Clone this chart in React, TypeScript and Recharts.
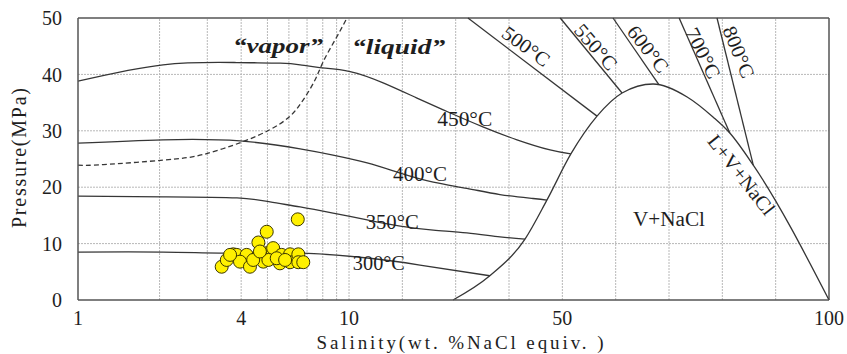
import React from 'react'
import { ComposedChart, Line, Scatter, XAxis, YAxis, ReferenceLine } from 'recharts'

const X_TICKS = [1, 4, 10, 50, 100]
const Y_TICKS = [0, 10, 20, 30, 40, 50]
const X_GRID = [2, 3, 4, 5, 6, 7, 8, 9, 10, 20, 30, 40, 50, 60, 70, 80, 90]
const Y_GRID = [10, 20, 30, 40]

// isotherms, [salinity wt.%, pressure MPa]
const iso300 = [[1, 8.5], [2.06, 8.5], [3.86, 8.3], [6.7, 8.3], [13.9, 7.4], [23.3, 6.2], [36.4, 4.3]]
const iso350 = [[1, 18.4], [2.06, 18.3], [3.86, 18.1], [5.11, 17.4], [6.6, 16.5], [8.73, 15.4], [13.4, 14.2], [19.6, 13.1], [25.8, 12.4], [32.1, 11.9], [38.3, 11.2], [43, 10.8]]
const iso400 = [[1, 27.8], [2.06, 28.4], [3.96, 28.2], [6.6, 26.8], [8.73, 25.7], [13.4, 24.3], [19.6, 22.5], [25.8, 20.9], [32.1, 19.8], [38.3, 18.7], [44.5, 18.0], [47.1, 17.7]]
const iso450 = [[1, 38.8], [2.06, 41.7], [3.86, 42.1], [5.57, 42.0], [6.6, 41.7], [7.8, 41.2], [10.2, 40.5], [16.4, 38.5], [22.75, 35.8], [28.9, 33.2], [35.1, 30.7], [41.5, 28.4], [47.7, 26.6], [51.6, 25.9]]
const iso500 = [[32.3, 50], [56.5, 32.6]]
const iso550 = [[49.6, 50], [61.2, 36.7]]
const iso600 = [[59.5, 50], [68.1, 38.2]]
const iso700 = [[71.9, 50], [81.4, 29.6]]
const iso800 = [[79, 50], [85.8, 23.9]]

// halite saturation / L+V+NaCl boundary
const boundary = [[29.5, 0], [36.4, 4.3], [43, 10.8], [47.1, 17.7], [51.6, 25.9], [56.5, 32.6], [61.2, 36.7], [67, 38.3], [73.4, 36], [78.3, 32.4], [81.4, 29.6], [85.8, 23.9], [100, 0]]

// vapor / liquid divide (dashed)
const critical = [[1, 23.9], [1.24, 24.0], [2.07, 24.8], [2.9, 25.8], [4.02, 28.0], [5.11, 30.2], [6.06, 32.6], [6.78, 35.5], [7.49, 39], [8.04, 42.3], [8.88, 46.1], [9.83, 50]]

// fluid inclusions
const inclusions = [
  [6.47, 14.3], [4.97, 12.1], [4.63, 10.2], [3.39, 5.9], [3.54, 7.1], [3.74, 8.1], [3.85, 8.0],
  [4.19, 8.0], [3.96, 6.8], [4.31, 5.9], [4.63, 7.9], [4.97, 8.3], [5.23, 8.2], [5.25, 9.2],
  [4.83, 6.8], [5.56, 6.5], [5.64, 8.0], [6.06, 8.1], [6.06, 6.7], [6.5, 8.1], [6.5, 6.7],
  [6.78, 6.7], [4.43, 7.1], [5.04, 7.1], [5.41, 7.4], [3.64, 8.0], [4.69, 8.6], [5.81, 7.1],
]

// annotations: text, salinity, pressure, rotation, text length
const LABELS: [string, number, number, number, number, string][] = [
  ['“vapor”', 5.47, 45.2, 0, 90, 'phase'],
  ['“liquid”', 19.3, 44.9, 0, 93, 'phase'],
  ['450°C', 31.7, 32.1, 0, 55, 't'],
  ['400°C', 23.3, 22.3, 0, 54, 't'],
  ['350°C', 18.1, 13.8, 0, 53, 't'],
  ['300°C', 15.6, 6.6, 0, 52, 't'],
  ['500°C', 43.2, 45.0, 36, 54, 't'],
  ['550°C', 56.3, 44.9, 49, 54, 't'],
  ['600°C', 66.1, 44.5, 52, 54, 't'],
  ['700°C', 76.4, 43.8, 63, 54, 't'],
  ['800°C', 83.1, 44.0, 68, 54, 't'],
  ['L+V+NaCl', 83.6, 22.2, 52, 96, 't'],
  ['V+NaCl', 70, 14.4, 0, 72, 't'],
]

// x axis: log from 1 to 10, then linear from 10 to 100
const LIN = 1.771
const toU = (s: number) => (s <= 10 ? Math.log10(s) : 1 + ((s - 10) / 90) * LIN)
const fromU = (u: number) => (u <= 1 ? Math.pow(10, u) : 10 + ((u - 1) / LIN) * 90)
const U_MAX = toU(100)

const pts = (arr: number[][]) => arr.map(([s, p]) => ({ u: toU(s), P: p }))

const SERIF = '"Liberation Serif", "Times New Roman", serif'
const INK = '#1e1e1e'
const LINE = '#363636'
const GRID = '#b8b8b8'

const labelData = LABELS.map(([text, s, p, angle, len, kind]) => ({ u: toU(s), P: p, text, angle, len, kind }))

function LabelShape(props: any) {
  const { cx, cy, payload } = props
  const phase = payload.kind === 'phase'
  return (
    <text
      x={cx}
      y={cy}
      textAnchor="middle"
      dominantBaseline="central"
      transform={payload.angle ? `rotate(${payload.angle} ${cx} ${cy})` : undefined}
      textLength={payload.len}
      lengthAdjust="spacingAndGlyphs"
      fontFamily={SERIF}
      fontSize={phase ? 22 : 20}
      fontWeight={phase ? 'bold' : 'normal'}
      fontStyle={phase ? 'italic' : 'normal'}
      fill={INK}
    >
      {payload.text}
    </text>
  )
}

function Dot(props: any) {
  const { cx, cy } = props
  return <circle cx={cx} cy={cy} r={6.5} fill="#fff000" stroke="#3b3600" strokeWidth={1} />
}

const curves = [iso300, iso350, iso400, iso450]
const straights = [iso500, iso550, iso600, iso700, iso800]

export default function App() {
  return (
    <div style={{ position: 'absolute', left: 0, top: 0, background: '#fff' }}>
      <ComposedChart width={847} height={354} margin={{ top: 18, right: 18, bottom: 0, left: 0 }}>
        <XAxis
          type="number"
          dataKey="u"
          domain={[0, U_MAX]}
          ticks={X_TICKS.map(toU)}
          tickFormatter={(v: number) => String(Math.round(fromU(v)))}
          height={54}
          tickLine={false}
          tickSize={6}
          tickMargin={5}
          axisLine={{ stroke: '#555', strokeWidth: 1.5 }}
          tick={{ fill: INK, fontSize: 20, fontFamily: SERIF }}
          label={{
            content: () => (
              <text x={460} y={342} textAnchor="middle" dominantBaseline="central" textLength={287}
                lengthAdjust="spacing" fontFamily={SERIF} fontSize={19} fill={INK}>
                Salinity(wt. %NaCl equiv. )
              </text>
            ),
          }}
        />
        <YAxis
          type="number"
          dataKey="P"
          domain={[0, 50]}
          ticks={Y_TICKS}
          width={78}
          tickLine={false}
          tickSize={6}
          tickMargin={10}
          axisLine={{ stroke: '#555', strokeWidth: 1.5 }}
          tick={{ fill: INK, fontSize: 20, fontFamily: SERIF }}
          label={{
            content: () => (
              <text x={19} y={158} transform="rotate(-90 19 158)" textAnchor="middle" dominantBaseline="central"
                textLength={140} lengthAdjust="spacing" fontFamily={SERIF} fontSize={20} fill={INK}>
                Pressure(MPa)
              </text>
            ),
          }}
        />

        {X_GRID.map((s) => (
          <ReferenceLine key={'gx' + s} x={toU(s)} stroke={GRID} strokeWidth={1} strokeDasharray="2 1" />
        ))}
        {Y_GRID.map((p) => (
          <ReferenceLine key={'gy' + p} y={p} stroke={GRID} strokeWidth={1} strokeDasharray="2 1" />
        ))}
        <ReferenceLine y={50} stroke="#555" strokeWidth={1.5} />
        <ReferenceLine x={U_MAX} stroke="#555" strokeWidth={1.5} />

        {curves.map((c, i) => (
          <Line key={'c' + i} data={pts(c)} dataKey="P" type="natural" stroke={LINE} strokeWidth={1.3}
            dot={false} activeDot={false} isAnimationActive={false} />
        ))}
        <Line data={pts(boundary)} dataKey="P" type="monotone" stroke={LINE} strokeWidth={1.3}
          dot={false} activeDot={false} isAnimationActive={false} />
        {straights.map((c, i) => (
          <Line key={'s' + i} data={pts(c)} dataKey="P" type="linear" stroke={LINE} strokeWidth={1.3}
            dot={false} activeDot={false} isAnimationActive={false} />
        ))}
        <Line data={pts(critical)} dataKey="P" type="natural" stroke={LINE} strokeWidth={1.3}
          strokeDasharray="5 3" dot={false} activeDot={false} isAnimationActive={false} />

        <Scatter data={pts(inclusions)} shape={<Dot />} isAnimationActive={false} />
        <Scatter data={labelData} shape={<LabelShape />} isAnimationActive={false} />
      </ComposedChart>
    </div>
  )
}
